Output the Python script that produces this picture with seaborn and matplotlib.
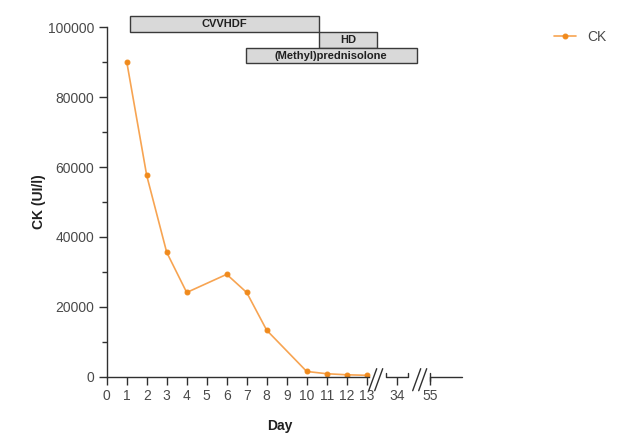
import matplotlib
matplotlib.use("Agg")
import matplotlib.pyplot as plt
import numpy as np
import pandas as pd
import seaborn as sns

# CK values per day
days = [1, 2, 3, 4, 6, 7, 8, 10, 11, 12, 13]
ck = [90200, 57600, 35600, 24100, 29300, 24100, 13300, 1500, 850, 550, 400]

# treatment periods (day start / end, bar row bottom / top in UI/l units)
therapies = ["CVVHDF", "HD", "(Methyl)prednisolone"]
therapy_start = [1.17, 10.63, 6.95]
therapy_end = [10.63, 13.5, 15.5]
therapy_low = [98600, 94150, 89700]
therapy_high = [103300, 98600, 94150]

# broken x axis: real days shown after the break, and where they sit
break_days = [34, 55]
break_pos = [14.5, 16.17]
x_ticks = list(range(0, 14))

sns.set_style("ticks")
plt.rcParams["font.family"] = ["Liberation Sans", "DejaVu Sans"]

TEXT = "#4a4a4a"
LINE = "#F7A452"
DOT = "#F08A1C"

fig = plt.figure(figsize=(6.3, 4.36), dpi=100)
ax = fig.add_axes([106.7 / 630, 59.3 / 436, 356 / 630, 349.4 / 436])

df = pd.DataFrame({"Day": days, "CK": ck})
sns.lineplot(data=df, x="Day", y="CK", color=LINE, linewidth=1.2, marker="o",
             markersize=3.5, markerfacecolor=DOT, markeredgecolor=DOT,
             label="CK", ax=ax, legend=False)

ax.set_xlim(0, 17.8)
ax.set_ylim(0, 100000)
ax.set_yticks(np.arange(0, 100001, 20000))
ax.set_yticks(np.arange(10000, 100000, 20000), minor=True)
ax.set_xticks(x_ticks + break_pos)
ax.set_xticklabels([str(t) for t in x_ticks] + [str(d) for d in break_days])
ax.tick_params(axis="both", which="major", length=6, width=1, color="#303030",
               labelsize=10, labelcolor=TEXT, pad=3)
ax.tick_params(axis="y", which="minor", length=3.5, width=1, color="#303030")
sns.despine(ax=ax)
for side in ["left", "bottom"]:
    ax.spines[side].set_color("#303030")
    ax.spines[side].set_linewidth(1)
ax.spines["bottom"].set_bounds(0, 13.1)

ax.set_xlabel("Day", fontsize=10, fontweight="bold", color="#202020")
ax.xaxis.set_label_coords(0.487, -0.12)
ax.set_ylabel("CK (UI/l)", fontsize=10, fontweight="bold", color="#202020", labelpad=1)

# break decorations on the x axis
xt = ax.get_xaxis_transform()
up = 4.0 / 349.4
seg1 = (13.97, 15.07)
seg2 = (16.17, 17.77)
deco = dict(color="#303030", linewidth=1, transform=xt, clip_on=False)
ax.plot([seg1[0], seg1[0], seg1[1], seg1[1]], [up, 0, 0, up], **deco)
ax.plot([seg2[0], seg2[1]], [0, 0], **deco)
ax.plot([seg2[0], seg2[0]], [-up, up], **deco)
for x0 in [13.1, 15.3]:
    for dx in [0, 0.3]:
        ax.plot([x0 + dx, x0 + dx + 0.4], [-14 / 349.4, 8 / 349.4], **deco)

# therapy bars above the curve
for name, s, e, lo, hi in zip(therapies, therapy_start, therapy_end, therapy_low, therapy_high):
    ax.bar(s, hi - lo, width=e - s, bottom=lo, align="edge", color="#D9D9D9",
           edgecolor="#3A3A3A", linewidth=1, clip_on=False, zorder=3)
    ax.text((s + e) / 2, (lo + hi) / 2, name, ha="center", va="center",
            fontsize=8, fontweight="bold", color="#202020", zorder=4, clip_on=False)

handles, labels = ax.get_legend_handles_labels()
fig.legend(handles, labels, loc="center left", bbox_to_anchor=(541 / 630, 1 - 37 / 436),
           frameon=False, fontsize=10, handlelength=1.6, labelcolor=TEXT)

fig.savefig("out.png", dpi=100)
